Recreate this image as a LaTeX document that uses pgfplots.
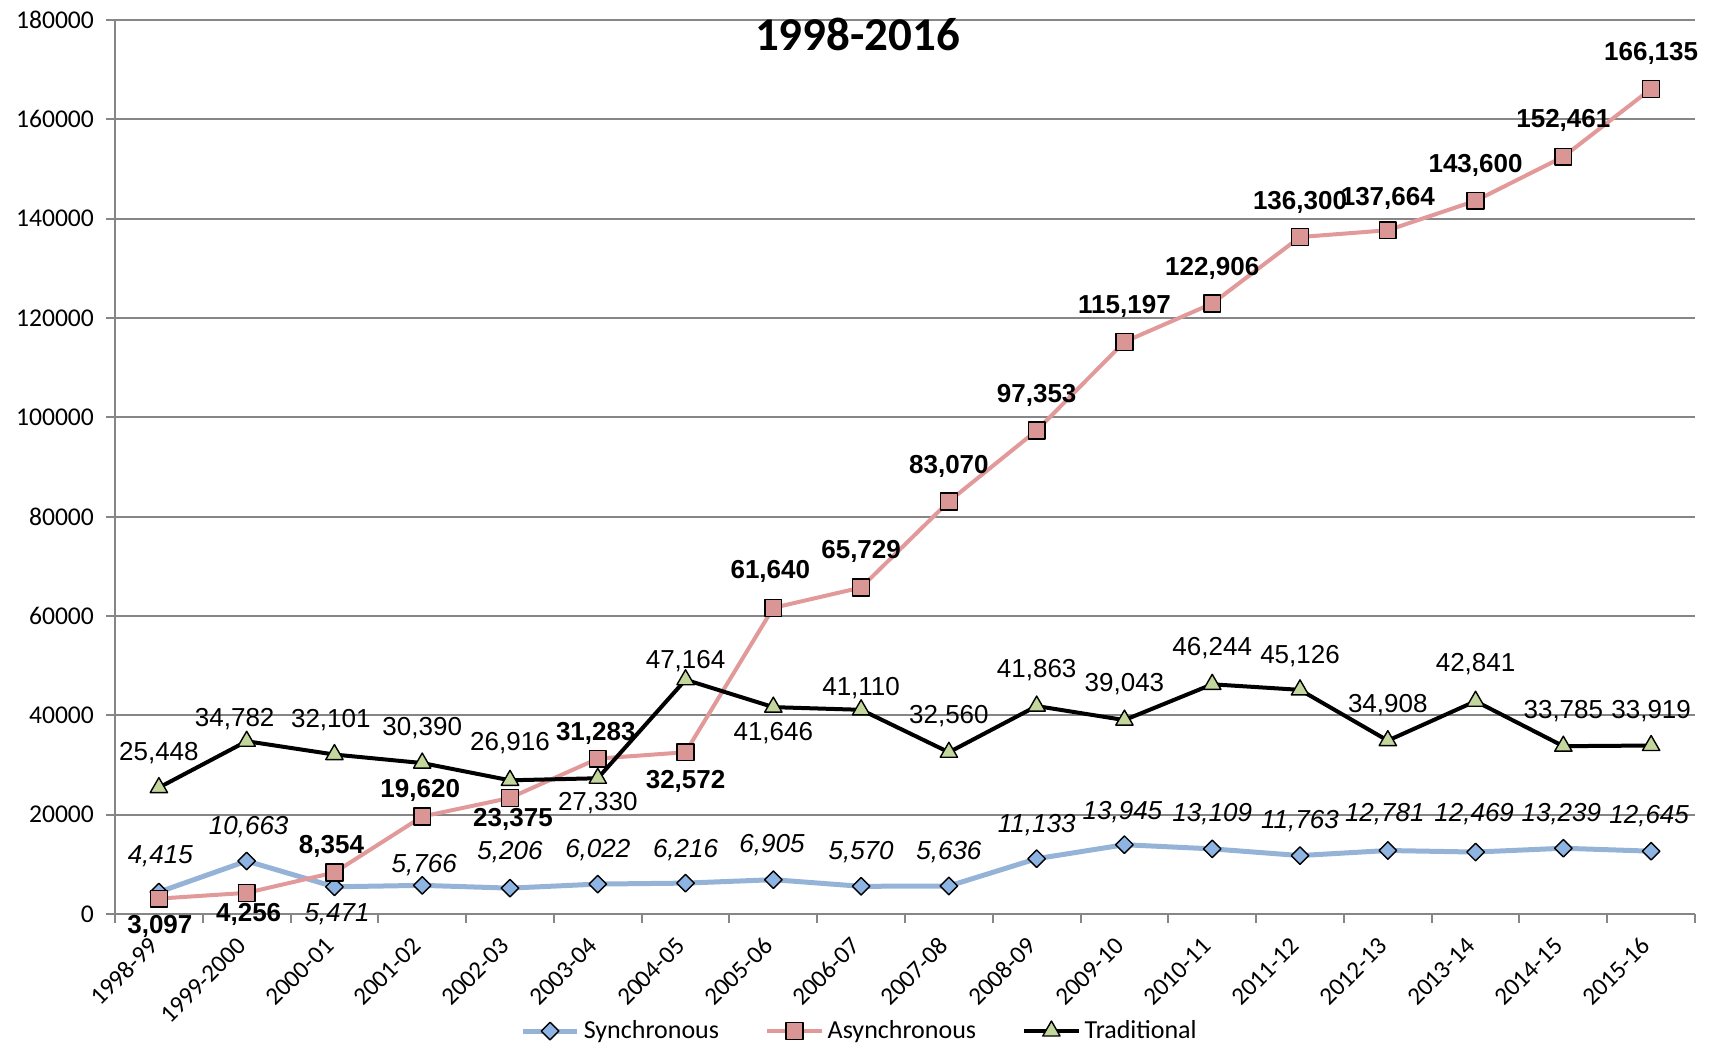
\documentclass[border=0pt]{standalone}
\usepackage{pgfplots}
\pgfplotsset{compat=1.18}
\usepackage{pgfplotstable}
\usepackage{fontspec}
\setmainfont{Liberation Sans}
\newfontfamily\calibri{Carlito}

\definecolor{syncline}{RGB}{149,179,215}
\definecolor{syncfill}{RGB}{141,180,226}
\definecolor{asyncline}{RGB}{226,153,153}
\definecolor{asyncfill}{RGB}{217,150,148}
\definecolor{tradfill}{RGB}{195,214,155}
\definecolor{gridgray}{RGB}{134,134,134}

% category label pushed straight down (rotated 45 degrees)
\newcommand\xl[1]{\raisebox{-5pt}[8pt][0pt]{#1\hspace{5pt}}}

% dy, dx: label offset from the point, in pt
\pgfplotstableread{
x y label dy dx
0 4415 4,415 18 0.7
1 10663 10,663 16.8 1
2 5471 5,471 -13.5 1.3
3 5766 5,766 10 1
4 5206 5,206 18 0
5 6022 6,022 17 0
6 6216 6,216 16.5 0
7 6905 6,905 17.5 -0.7
8 5570 5,570 17 0
9 5636 5,636 17 0
10 11133 11,133 17 0
11 13945 13,945 16.5 -1
12 13109 13,109 17.5 0
13 11763 11,763 17 0
14 12781 12,781 18 -1.5
15 12469 12,469 19 -0.7
16 13239 13,239 17 -1
17 12645 12,645 17.5 -1
}\syncdata

\pgfplotstableread{
x y label dy dx
0 3097 3,097 -14 0.5
1 4256 4,256 -11 1
2 8354 8,354 13 -1.5
3 19620 19,620 13 -1
4 23375 23,375 -11 1.5
5 31283 31,283 12.5 -1
6 32572 32,572 -14.5 0
7 61640 61,640 18 -1.5
8 65729 65,729 18 0
9 83070 83,070 17.5 0
10 97353 97,353 17.5 0
11 115197 115,197 17.5 0
12 122906 122,906 17.5 0
13 136300 136,300 17.5 0
14 137664 137,664 16 0
15 143600 143,600 17.5 0
16 152461 152,461 18 0
17 166135 166,135 17.5 0
}\asyncdata

\pgfplotstableread{
x y label dy dx
0 25448 25,448 17.5 0
1 34782 34,782 11 -6
2 32101 32,101 17.3 -1.8
3 30390 30,390 17.3 0
4 26916 26,916 18.5 0
5 27330 27,330 -12.5 0
6 47164 47,164 9.5 0
7 41646 41,646 -13 0
8 41110 41,110 11 0
9 32560 32,560 18 0
10 41863 41,863 18 0
11 39043 39,043 18 0
12 46244 46,244 18 0
13 45126 45,126 17 0
14 34908 34,908 18 0
15 42841 42,841 18.5 0
16 33785 33,785 17.5 0
17 33919 33,919 17 0
}\traddata

% 447pt = 180000 units  -> 1pt = 402.68 units ; 790pt = 18 units -> 1pt = 0.022785 units
\pgfplotsset{
  labelplot/.style={draw=none, mark=none, forget plot,
    nodes near coords, point meta=explicit symbolic,
    every node near coord/.append style={anchor=center, text=black, inner sep=0pt}},
}

\begin{document}
\begin{tikzpicture}
\begin{axis}[
  scale only axis, width=790pt, height=447pt,
  xmin=-0.5, xmax=17.5, ymin=0, ymax=180000,
  clip=false,
  axis lines*=left,
  axis line style={draw=gridgray, line width=1pt, -},
  ytick={0,20000,...,180000},
  yticklabels={0,20000,40000,60000,80000,100000,120000,140000,160000,180000},
  scaled y ticks=false,
  ymajorgrids,
  grid style={draw=gridgray, line width=0.9pt},
  xtick={0,...,17},
  xticklabels={\xl{1998-99},\xl{1999-2000},\xl{2000-01},\xl{2001-02},\xl{2002-03},\xl{2003-04},\xl{2004-05},\xl{2005-06},\xl{2006-07},\xl{2007-08},\xl{2008-09},\xl{2009-10},\xl{2010-11},\xl{2011-12},\xl{2012-13},\xl{2013-14},\xl{2014-15},\xl{2015-16}},
  minor xtick={-0.5,0.5,...,17.5},
  tick align=outside,
  major tick length=4.5pt,
  minor tick length=4.5pt,
  tick style={draw=gridgray, line width=1pt},
  major x tick style={draw=none},
  minor x tick style={draw=gridgray, line width=1pt},
  xticklabel style={rotate=45, anchor=east, font=\calibri\fontsize{12.5}{15}\selectfont},
  yticklabel style={xshift=-2.5pt, font=\calibri\fontsize{12.8}{15}\selectfont},
  legend columns=3,
  legend style={at={(rel axis cs:0.4718,-0.1309)}, anchor=center, draw=none,
    font=\calibri\fontsize{13}{15}\selectfont,
    /tikz/every even column/.append style={column sep=21pt}},
  legend image code/.code={\draw[mark repeat=2,mark phase=2] plot coordinates {(0cm,0cm) (0.48cm,0cm) (0.96cm,0cm)};},
]
\addplot[color=syncline, line width=2.5pt, line join=round,
  mark=square*, mark size=3.1pt,
  mark options={rotate=45, fill=syncfill, draw=black, line width=0.7pt}]
  table[x=x, y=y]{\syncdata};
\addlegendentry{Synchronous}
\addplot[color=asyncline, line width=2pt, line join=round,
  mark=square*, mark size=4.2pt,
  mark options={fill=asyncfill, draw=black, line width=0.7pt}]
  table[x=x, y=y]{\asyncdata};
\addlegendentry{Asynchronous}
\addplot[color=black, line width=2pt, line join=round,
  mark=triangle*, mark size=5pt,
  mark options={fill=tradfill, draw=black, line width=0.7pt}]
  table[x=x, y=y]{\traddata};
\addlegendentry{Traditional}
\addplot[labelplot, every node near coord/.append style={font=\fontsize{13}{15}\selectfont\itshape}]
  table[x expr=\thisrow{x}+\thisrow{dx}*0.022785, y expr=\thisrow{y}+\thisrow{dy}*402.68, meta=label]{\syncdata};
\addplot[labelplot, every node near coord/.append style={font=\fontsize{13}{15}\selectfont\bfseries}]
  table[x expr=\thisrow{x}+\thisrow{dx}*0.022785, y expr=\thisrow{y}+\thisrow{dy}*402.68, meta=label]{\asyncdata};
\addplot[labelplot, every node near coord/.append style={font=\fontsize{13}{15}\selectfont}]
  table[x expr=\thisrow{x}+\thisrow{dx}*0.022785, y expr=\thisrow{y}+\thisrow{dy}*402.68, meta=label]{\traddata};
\node[font=\calibri\bfseries\fontsize{23.5}{28}\selectfont] at (rel axis cs:0.470,0.984) {1998-2016};
\end{axis}
\pgfresetboundingbox
\path ([xshift=-57.5pt,yshift=-66pt]current axis.south west) rectangle ([xshift=9pt,yshift=10pt]current axis.north east);
\end{tikzpicture}
\end{document}
